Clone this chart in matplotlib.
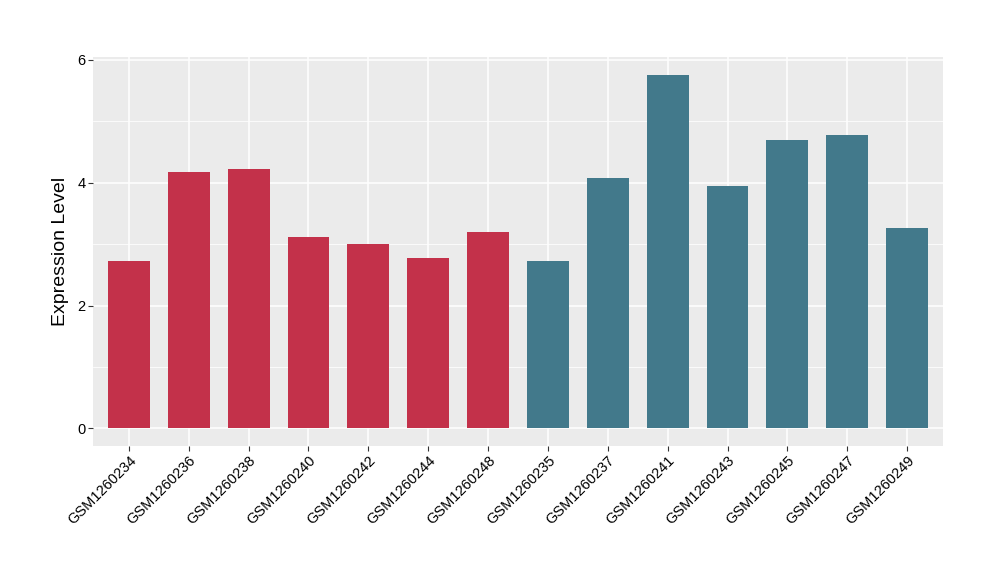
import matplotlib
matplotlib.use("Agg")
import matplotlib.pyplot as plt
import numpy as np

plt.rcParams['font.family'] = ['Liberation Sans', 'DejaVu Sans']

samples = ["GSM1260234", "GSM1260236", "GSM1260238", "GSM1260240", "GSM1260242",
           "GSM1260244", "GSM1260248", "GSM1260235", "GSM1260237", "GSM1260241",
           "GSM1260243", "GSM1260245", "GSM1260247", "GSM1260249"]
values = [2.72, 4.18, 4.23, 3.12, 3.01, 2.78, 3.20,
          2.72, 4.07, 5.76, 3.95, 4.70, 4.77, 3.27]
groups = ["A"] * 7 + ["B"] * 7
group_colors = {"A": "#C3314A", "B": "#42798B"}
y_ticks = [0, 2, 4, 6]
y_label = "Expression Level"

fig = plt.figure(figsize=(10, 5.8), dpi=100)
ax = fig.add_axes([0.093, 0.231, 0.85, 0.6707])
ax.set_facecolor("#EBEBEB")

x = np.arange(len(samples))
ax.bar(x, values, width=0.7, color=[group_colors[g] for g in groups], zorder=3)

ymax = max(values)
ax.set_xlim(-0.6, len(samples) - 0.4)
ax.set_ylim(-0.05 * ymax, 1.05 * ymax)

ax.set_yticks(y_ticks)
ax.set_yticks([1, 3, 5], minor=True)
ax.set_xticks(x)
ax.set_xticklabels(samples, rotation=45, ha="right", va="top", rotation_mode="anchor")
ax.grid(which="major", color="white", linewidth=1.1, zorder=0)
ax.grid(which="minor", axis="y", color="white", linewidth=0.55, zorder=0)
ax.set_axisbelow(True)

for s in ax.spines.values():
    s.set_visible(False)
ax.tick_params(axis="both", which="major", length=3.5, width=0.8, color="#333333",
               labelsize=10.5, labelcolor="black", pad=2)
ax.tick_params(axis="y", which="minor", length=0)
ax.set_ylabel(y_label, fontsize=14, labelpad=6)

fig.savefig("out.png", dpi=100)
